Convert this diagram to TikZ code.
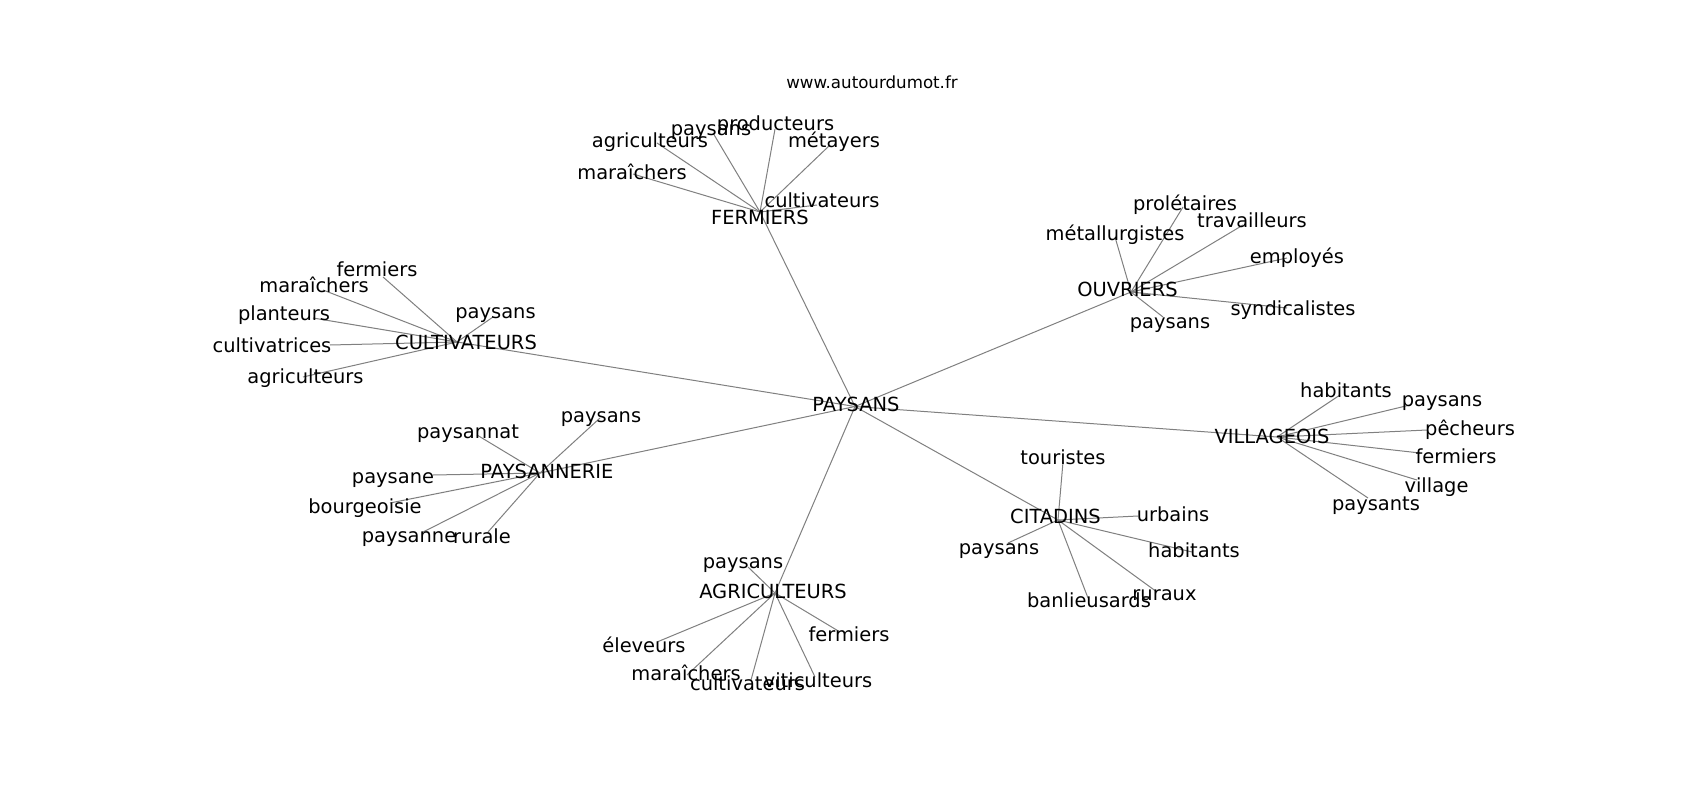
\documentclass[tikz,border=0pt]{standalone}
\usepackage{fontspec}
\setmainfont{DejaVu Sans}
\tikzset{
  edge/.style={draw=gray, line width=1bp},
  lbl/.style={inner sep=0pt, yshift=-4bp, text height=0.73em, text depth=0.24em, font=\fontsize{19.44bp}{23bp}\selectfont, text=black},
  ttl/.style={inner sep=0pt, yshift=-4bp, text height=0.73em, text depth=0.24em, font=\fontsize{16.67bp}{20bp}\selectfont, text=black}
}
\newcommand\mkleaf[5]{%
  \coordinate (#1) at (#2);
  \draw[edge] (#5) -- (#1);
  \node[lbl] (#1-t) at (#3) {#4};
}
\begin{document}
\begin{tikzpicture}[x=1bp, y=-1bp]
\useasboundingbox (0,0) rectangle (1700,800);
\fill[white] (0,0) rectangle (1700,800);

% title
\node[ttl] (title) at (872,82) {www.autourdumot.fr};

% hubs
\coordinate (P) at (855,406.5);
\coordinate (F) at (760,212);
\coordinate (O) at (1131,292);
\coordinate (C) at (457,342);
\coordinate (V) at (1277,437);
\coordinate (PN) at (540,473);
\coordinate (CI) at (1058,520);
\coordinate (A) at (775,593);

\foreach \h in {F,O,C,V,PN,CI,A} { \draw[edge] (P) -- (\h); }

% FERMIERS
\mkleaf{F1}{633,174}{632,173}{maraîchers}{F}
\mkleaf{F2}{657,143}{650,141}{agriculteurs}{F}
\mkleaf{F3}{713,133}{711,129}{paysans}{F}
\mkleaf{F4}{775,129}{775.5,124}{producteurs}{F}
\mkleaf{F5}{830,145}{834,141}{métayers}{F}
\mkleaf{F6}{817,205}{822,201}{cultivateurs}{F}

% CULTIVATEURS
\mkleaf{C1}{383,277}{377,270}{fermiers}{C}
\mkleaf{C2}{323,290}{314,286}{maraîchers}{C}
\mkleaf{C3}{313,318}{284,314}{planteurs}{C}
\mkleaf{C4}{330,345}{272,346}{cultivatrices}{C}
\mkleaf{C5}{493,317}{495.5,312}{paysans}{C}
\mkleaf{C6}{303,377}{305.5,377}{agriculteurs}{C}

% PAYSANNERIE
\mkleaf{N1}{477,435}{468,432}{paysannat}{PN}
\mkleaf{N2}{600,418}{601,416}{paysans}{PN}
\mkleaf{N3}{433,475}{393,477}{paysane}{PN}
\mkleaf{N4}{390,503}{365,507}{bourgeoisie}{PN}
\mkleaf{N5}{423,532}{409,536}{paysanne}{PN}
\mkleaf{N6}{488,532}{482,537}{rurale}{PN}

% OUVRIERS
\mkleaf{O1}{1183,207}{1185,204}{prolétaires}{O}
\mkleaf{O2}{1115,237}{1115,234}{métallurgistes}{O}
\mkleaf{O3}{1243,225}{1252,221}{travailleurs}{O}
\mkleaf{O4}{1287,258}{1297,257}{employés}{O}
\mkleaf{O5}{1287,308}{1293,309}{syndicalistes}{O}
\mkleaf{O6}{1163,317}{1170,322}{paysans}{O}

% VILLAGEOIS
\mkleaf{V1}{1340,395}{1346,391}{habitants}{V}
\mkleaf{V2}{1410,405}{1442,400}{paysans}{V}
\mkleaf{V3}{1427,430}{1470,429}{pêcheurs}{V}
\mkleaf{V4}{1420,453}{1456,457}{fermiers}{V}
\mkleaf{V5}{1417,480}{1436.5,486}{village}{V}
\mkleaf{V6}{1368,498}{1376,504}{paysants}{V}

% CITADINS
\mkleaf{I1}{1063,462}{1063,458}{touristes}{CI}
\mkleaf{I2}{1138,516}{1173,515}{urbains}{CI}
\mkleaf{I3}{1192,552}{1194,551}{habitants}{CI}
\mkleaf{I4}{1157,592}{1164.5,594}{ruraux}{CI}
\mkleaf{I5}{1088,598}{1089,601}{banlieusards}{CI}
\mkleaf{I6}{1008,543}{999,548}{paysans}{CI}

% AGRICULTEURS
\mkleaf{A1}{748,567}{743,562}{paysans}{A}
\mkleaf{A2}{657,642}{644,646}{éleveurs}{A}
\mkleaf{A3}{687,675}{686,674}{maraîchers}{A}
\mkleaf{A4}{751,680}{747.5,684}{cultivateurs}{A}
\mkleaf{A5}{815,677}{818,681}{viticulteurs}{A}
\mkleaf{A6}{840,632}{849,635}{fermiers}{A}

% hub labels
\node[lbl] (P-t) at (856,405) {PAYSANS};
\node[lbl] (F-t) at (760,218) {FERMIERS};
\node[lbl] (O-t) at (1127.5,290) {OUVRIERS};
\node[lbl] (C-t) at (466,343) {CULTIVATEURS};
\node[lbl] (V-t) at (1272,437) {VILLAGEOIS};
\node[lbl] (PN-t) at (547,472) {PAYSANNERIE};
\node[lbl] (CI-t) at (1055.5,517) {CITADINS};
\node[lbl] (A-t) at (773,592) {AGRICULTEURS};
\end{tikzpicture}
\end{document}
